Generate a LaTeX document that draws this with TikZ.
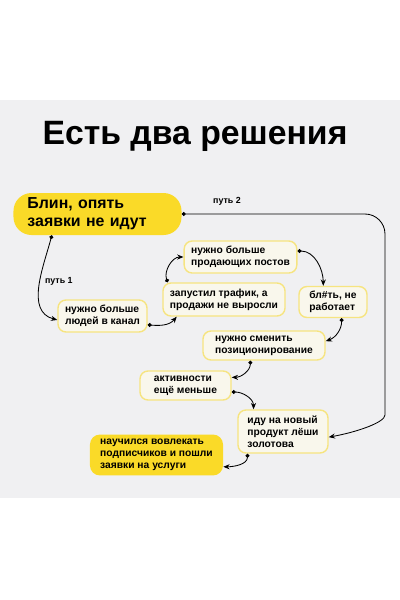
\documentclass[tikz,border=0pt]{standalone}
\usepackage{fontspec}
\setmainfont{Liberation Sans}
\usetikzlibrary{arrows.meta}

\definecolor{fon}{RGB}{240,240,242}
\definecolor{zhelt}{RGB}{250,218,40}
\definecolor{blednyi}{RGB}{249,247,236}
\definecolor{kant}{RGB}{246,228,128}

\tikzset{
  hot/.style={rectangle, rounded corners=0.25cm, fill=zhelt, align=left,
    inner xsep=0.175cm, font=\bfseries\fontsize{7.3}{8.5}\selectfont},
  box/.style={rectangle, rounded corners=0.2cm, draw=kant, line width=1pt,
    fill=blednyi, align=left, inner xsep=0.175cm,
    font=\bfseries\fontsize{7.3}{8.5}\selectfont},
  link/.style={{Circle[length=2.8pt]}-{Stealth[length=4.5pt, width=3.6pt]}, line width=0.6pt, black},
  lbl/.style={font=\bfseries\fontsize{6.3}{7}\selectfont}
}

\begin{document}
\begin{tikzpicture}[x=0.025cm, y=-0.025cm]
    \useasboundingbox (0,0) rectangle (400,600);
    \fill[fon] (0,100) rectangle (400,498);

    \node (title) at (195,136) [font=\bfseries\fontsize{24}{26}\selectfont] {Есть два решения};

    \node (blin) at (97.5,214) [hot, rounded corners=0.45cm, inner xsep=0.35cm, text width=3.5cm, minimum height=1.05cm, font=\bfseries\fontsize{11.3}{13}\selectfont] {Блин, опять\\заявки не идут};
    \node (ludi)   at (102.5,316) [box, minimum width=2.225cm, minimum height=0.8cm] {нужно больше\\людей в канал};
    \node (trafik) at (224,299.5) [box, minimum width=2.95cm, minimum height=0.825cm] {запустил трафик, а\\продажи не выросли};
    \node (posty)  at (240.5,257) [box, minimum width=2.775cm, minimum height=0.8cm] {нужно больше\\продающих постов};
    \node (blyat)  at (333,302)   [box, minimum width=1.7cm, minimum height=0.7cm] {бл\#ть, не\\работает};
    \node (smena)  at (264,345.5) [box, minimum width=3.05cm, minimum height=0.675cm] {нужно сменить\\позиционирование};
    \node (aktiv)  at (185.5,385.5) [box, minimum width=2.275cm, minimum height=0.725cm] {активности\\ещё меньше};
    \node (idu)    at (283,431.5) [box, minimum width=2.25cm, minimum height=1.075cm] {иду на новый\\продукт лёши\\золотова};
    \node (nauch)  at (156.5,455) [hot, minimum width=3.325cm, minimum height=1cm] {научился вовлекать\\подписчиков и пошли\\заявки на услуги};

    % два пути
    \draw[link] (blin.205) to[out=255, in=165] node[lbl, right, pos=0.45] {путь 1} (ludi.185);
    \coordinate (ugol) at (385,214);
    \draw[link, rounded corners=0.5cm] (blin.east) -- (ugol) -- (385,395) to[out=-90, in=10] (idu.-7);
    \node[lbl] (put2) at (227,201) {путь 2};

    % путь 1 по кругу
    \draw[link] (ludi.-11) to[out=-5, in=230] (trafik.200);
    \draw[link] (trafik.163) to[out=110, in=180] (posty.west);
    \draw[link] (posty.6) to[out=0, in=90] (blyat.121);
    \draw[link] (blyat.-62) to[out=-90, in=20] (smena.4);
    \draw[link] (smena.228) to[out=-90, in=0] (aktiv.10);
    \draw[link] (aktiv.-8) to[out=0, in=90] (idu.143);
    \draw[link] (idu.212) to[out=-90, in=0] (nauch.-10);
\end{tikzpicture}
\end{document}
